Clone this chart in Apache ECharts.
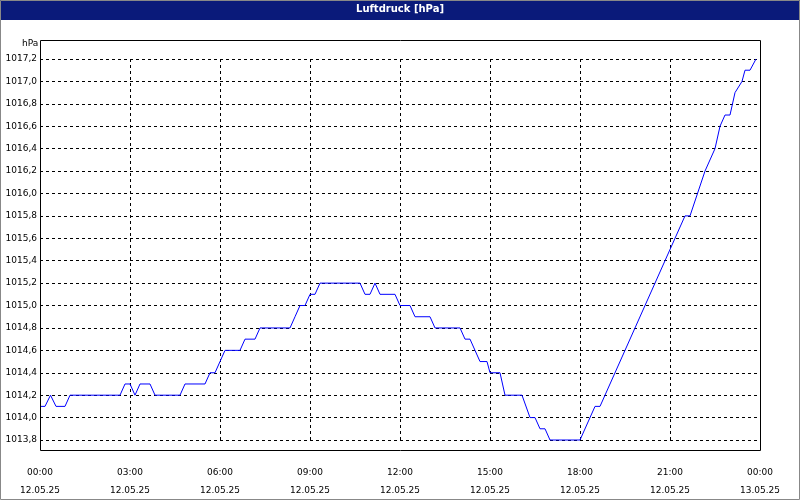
<!DOCTYPE html>
<html><head><meta charset="utf-8">
<script src="https://cdn.jsdelivr.net/npm/echarts@6/dist/echarts.min.js"></script>
<style>html,body{margin:0;padding:0;background:#fff}#c{width:800px;height:500px}</style>
</head><body><div id="c"></div>
<script>
const title = 'Luftdruck [hPa]';
const unit = 'hPa';
const timeLabels = ['00:00','03:00','06:00','09:00','12:00','15:00','18:00','21:00','00:00'];
const dateLabels = ['12.05.25','12.05.25','12.05.25','12.05.25','12.05.25','12.05.25','12.05.25','12.05.25','13.05.25'];
// minutes since 00:00 12.05.25
const times = [0,10,21,32,50,60,160,170,180,190,200,220,230,280,290,330,340,350,360,370,400,410,430,440,500,510,520,530,540,550,560,640,650,660,670,680,710,720,740,750,780,790,840,850,860,870,880,894,900,920,930,964,980,990,1000,1010,1020,1080,1110,1120,1290,1300,1330,1350,1360,1370,1380,1390,1404,1410,1420,1432];
const values = [1014.1,1014.1,1014.2,1014.1,1014.1,1014.2,1014.2,1014.3,1014.3,1014.2,1014.3,1014.3,1014.2,1014.2,1014.3,1014.3,1014.4,1014.4,1014.5,1014.6,1014.6,1014.7,1014.7,1014.8,1014.8,1014.9,1015.0,1015.0,1015.1,1015.1,1015.2,1015.2,1015.1,1015.1,1015.2,1015.1,1015.1,1015.0,1015.0,1014.9,1014.9,1014.8,1014.8,1014.7,1014.7,1014.6,1014.5,1014.5,1014.4,1014.4,1014.2,1014.2,1014.0,1014.0,1013.9,1013.9,1013.8,1013.8,1014.1,1014.1,1015.8,1015.8,1016.2,1016.4,1016.6,1016.7,1016.7,1016.9,1017.0,1017.1,1017.1,1017.2];
const font = 'DejaVu Sans';
const chart = echarts.init(document.getElementById('c'));
chart.setOption({
  animation:false,
  backgroundColor:'#fff',
  graphic:[
    {type:'rect',shape:{x:0,y:0,width:800,height:20},style:{fill:'#0a1a7a'},z:0},
    {type:'text',left:'center',top:4,style:{text:title,fill:'#fff',font:'bold 10px '+font},z:1},
    {type:'rect',shape:{x:0.5,y:0.5,width:799,height:499},style:{fill:'none',stroke:'#888',lineWidth:1},z:0},
    {type:'rect',shape:{x:40.5,y:40.5,width:720,height:410},style:{fill:'none',stroke:'#000',lineWidth:1},z:10},
    {type:'text',left:22,top:39,style:{text:unit,fill:'#000',font:'9px '+font},z:1}
  ],
  grid:{left:40,right:40,top:59,bottom:59,show:false},
  xAxis:{type:'value',min:0,max:1440,interval:180,
    axisLine:{show:false},
    axisTick:{show:false},
    axisLabel:{margin:24,color:'#000',fontFamily:font,fontSize:9,lineHeight:18,
      formatter:v=>timeLabels[v/180]+'\n'+dateLabels[v/180]},
    splitLine:{show:true,lineStyle:{color:'#000',type:[3,3],width:1}}},
  yAxis:{type:'value',min:1013.8,max:1017.2,interval:0.2,
    axisLine:{show:false},axisTick:{show:false},
    axisLabel:{color:'#000',fontFamily:font,fontSize:9,margin:3,formatter:v=>v.toFixed(1).replace('.',',')},
    splitLine:{show:true,lineStyle:{color:'#000',type:[3,3],width:1}}},
  series:[{type:'line',data:times.map((t,i)=>[t,values[i]]),showSymbol:false,
    lineStyle:{color:'#0000ff',width:1},clip:false}]
});
</script></body></html>
